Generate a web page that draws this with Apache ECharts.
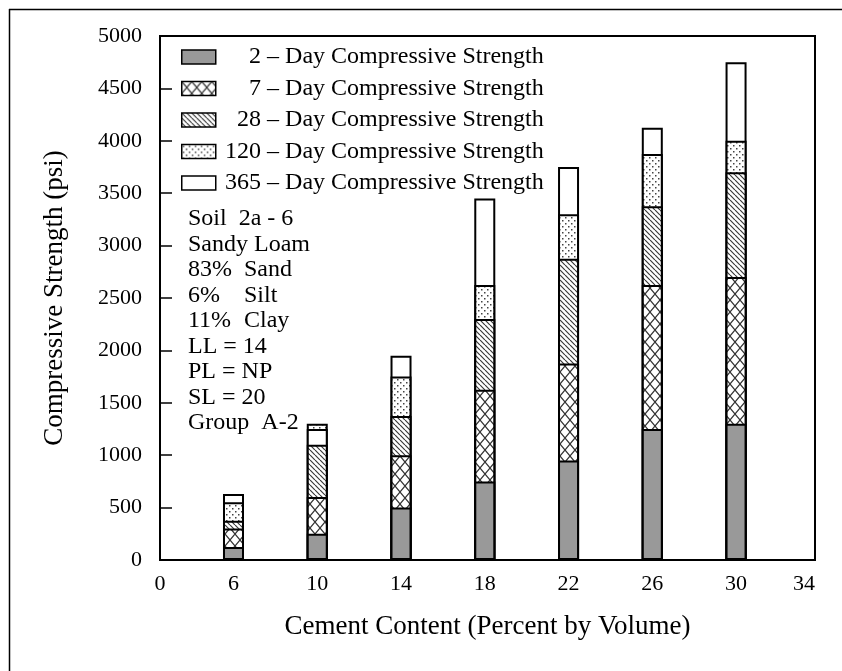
<!DOCTYPE html>
<html>
<head>
<meta charset="utf-8">
<title>Compressive Strength vs Cement Content</title>
<script src="https://cdn.jsdelivr.net/npm/echarts@6/dist/echarts.min.js"></script>
<style>
  html, body { margin: 0; padding: 0; background: #fff; }
  #chart { width: 842px; height: 671px; }
</style>
</head>
<body>
<div id="chart"></div>
<script>
// Cement content (percent by volume) for each specimen group
const cementContent = [6, 10, 14, 18, 22, 26, 30];

// Compressive strength (psi) at each curing age
const strength2Day   = [125, 250, 500, 750, 950, 1250, 1300];
const strength7Day   = [300, 600, 1000, 1625, 1875, 2625, 2700];
const strength28Day  = [375, 1100, 1375, 2300, 2875, 3375, 3700];
const strength120Day = [550, 1300, 1750, 2625, 3300, 3875, 4000];
const strength365Day = [630, 1250, 1950, 3450, 3750, 4125, 4750];

// Axis tick labels
const xTickLabels = [0, 6, 10, 14, 18, 22, 26, 30, 34];
const yTickLabels = [0, 500, 1000, 1500, 2000, 2500, 3000, 3500, 4000, 4500, 5000];

const seriesNames = [
  '2 – Day Compressive Strength',
  '7 – Day Compressive Strength',
  '28 – Day Compressive Strength',
  '120 – Day Compressive Strength',
  '365 – Day Compressive Strength'
];

const soilNotes = [
  ['Soil  2a - 6'],
  ['Sandy Loam'],
  ['83%', 'Sand'],
  ['6%', 'Silt'],
  ['11%', 'Clay'],
  ['LL = 14'],
  ['PL = NP'],
  ['SL = 20'],
  ['Group  A-2']
];

const FONT = "'Liberation Serif', 'Times New Roman', serif";

// ---- fill patterns ----
function tile(w, h, draw) {
  const c = document.createElement('canvas');
  c.width = w; c.height = h;
  const ctx = c.getContext('2d');
  ctx.fillStyle = '#fff';
  ctx.fillRect(0, 0, w, h);
  draw(ctx, w, h);
  return { image: c, repeat: 'repeat' };
}
const crossHatch = tile(10, 12, (ctx, w, h) => {
  ctx.strokeStyle = '#333';
  ctx.lineWidth = 1.2;
  ctx.beginPath();
  ctx.moveTo(0, 0); ctx.lineTo(w, h);
  ctx.moveTo(w, 0); ctx.lineTo(0, h);
  ctx.stroke();
});
const diagonal = tile(5, 5, (ctx, w, h) => {
  ctx.strokeStyle = '#3a3a3a';
  ctx.lineWidth = 1.2;
  ctx.beginPath();
  for (let k = -w; k <= w; k += w) {
    ctx.moveTo(k, 0); ctx.lineTo(k + w, h);
  }
  ctx.stroke();
});
const dotted = tile(6, 6, (ctx) => {
  ctx.fillStyle = '#444';
  ctx.fillRect(1, 1, 1.5, 1.5);
  ctx.fillRect(4, 4, 1.5, 1.5);
});
const fills = ['#999999', crossHatch, diagonal, dotted, '#ffffff'];

// ---- series data ----
const pairs = (vals) => cementContent.map((x, i) => [x, vals[i]]);
// Where the 365-day value sits below the 120-day value, that bar is drawn in front of the 120-day bar
const late365Back  = cementContent.map((x, i) => strength365Day[i] >= strength120Day[i] ? [x, strength365Day[i]] : [x, '-']);
const late365Front = cementContent.map((x, i) => strength365Day[i] <  strength120Day[i] ? [x, strength365Day[i]] : [x, '-']);

function barSeries(nameIdx, data) {
  return {
    name: seriesNames[nameIdx],
    type: 'bar',
    data: data,
    barWidth: 21,
    barGap: '-100%',
    itemStyle: { color: fills[nameIdx], borderColor: '#000', borderWidth: 2 },
    emphasis: { disabled: true },
    animation: false
  };
}

const series = [
  barSeries(4, late365Back),
  barSeries(3, pairs(strength120Day)),
  barSeries(4, late365Front),
  barSeries(2, pairs(strength28Day)),
  barSeries(1, pairs(strength7Day)),
  barSeries(0, pairs(strength2Day))
];

const xMin = 2.49, xMax = 33.77;
const xLabelValues = xTickLabels.map((v, i) => i === 0 ? xMin : (i === xTickLabels.length - 1 ? xMax : v));

const notesText = soilNotes.map(r => r.length === 2 ? '{a|' + r[0] + '}{b|' + r[1] + '}' : '{b|' + r[0] + '}').join('\n');

const chart = echarts.init(document.getElementById('chart'), null, { renderer: 'canvas' });
chart.setOption({
  backgroundColor: '#fff',
  animation: false,
  grid: {
    left: 160, right: 27, top: 36, bottom: 111,
    show: true, borderColor: '#000', borderWidth: 2, backgroundColor: 'transparent'
  },
  legend: {
    data: seriesNames,
    orient: 'vertical',
    left: 176, top: 40,
    icon: 'rect',
    itemWidth: 34, itemHeight: 14, itemGap: 7.5,
    selectedMode: false,
    itemStyle: { borderColor: '#000', borderWidth: 1.5 },
    formatter: name => '{t|' + name + '}',
    textStyle: {
      color: '#000', fontFamily: FONT, fontSize: 24, lineHeight: 24,
      rich: { t: { width: 323, align: 'right', fontFamily: FONT, fontSize: 24, lineHeight: 24, color: '#000' } }
    }
  },
  xAxis: {
    type: 'value',
    min: xMin, max: xMax,
    name: 'Cement Content (Percent by Volume)',
    nameLocation: 'middle', nameGap: 53,
    nameTextStyle: { fontFamily: FONT, fontSize: 27, color: '#000' },
    axisLine: { lineStyle: { color: '#000', width: 2 } },
    axisTick: { show: false },
    splitLine: { show: false },
    axisLabel: {
      customValues: xLabelValues,
      showMinLabel: true, showMaxLabel: true,
      alignMaxLabel: 'right',
      margin: 13,
      fontFamily: FONT, fontSize: 22, color: '#000',
      formatter: v => {
        if (Math.abs(v - xMin) < 1e-6) return String(xTickLabels[0]);
        if (Math.abs(v - xMax) < 1e-6) return String(xTickLabels[xTickLabels.length - 1]);
        return String(v);
      }
    }
  },
  yAxis: {
    type: 'value',
    min: yTickLabels[0], max: yTickLabels[yTickLabels.length - 1], interval: 500,
    name: 'Compressive Strength (psi)',
    nameLocation: 'middle', nameGap: 92,
    nameTextStyle: { fontFamily: FONT, fontSize: 27, color: '#000' },
    axisLine: { show: true, lineStyle: { color: '#000', width: 2 } },
    axisTick: { show: true, inside: true, length: 12, lineStyle: { color: '#000', width: 1.5 } },
    splitLine: { show: false },
    axisLabel: {
      margin: 18, fontFamily: FONT, fontSize: 22, color: '#000',
      formatter: v => String(v)
    }
  },
  series: series,
  graphic: [
    {
      type: 'text', left: 188, top: 206, silent: true,
      style: {
        text: notesText,
        fill: '#000',
        font: '24px ' + FONT,
        lineHeight: 25.5,
        rich: {
          a: { width: 56, fontFamily: FONT, fontSize: 24, lineHeight: 25.5, fill: '#000' },
          b: { fontFamily: FONT, fontSize: 24, lineHeight: 25.5, fill: '#000' }
        }
      }
    },
    { type: 'line', silent: true, shape: { x1: 9.5, y1: 9, x2: 9.5, y2: 671 }, style: { stroke: '#000', lineWidth: 1.5 } },
    { type: 'line', silent: true, shape: { x1: 9, y1: 9.5, x2: 842, y2: 9.5 }, style: { stroke: '#000', lineWidth: 1.5 } }
  ]
});
</script>
</body>
</html>
